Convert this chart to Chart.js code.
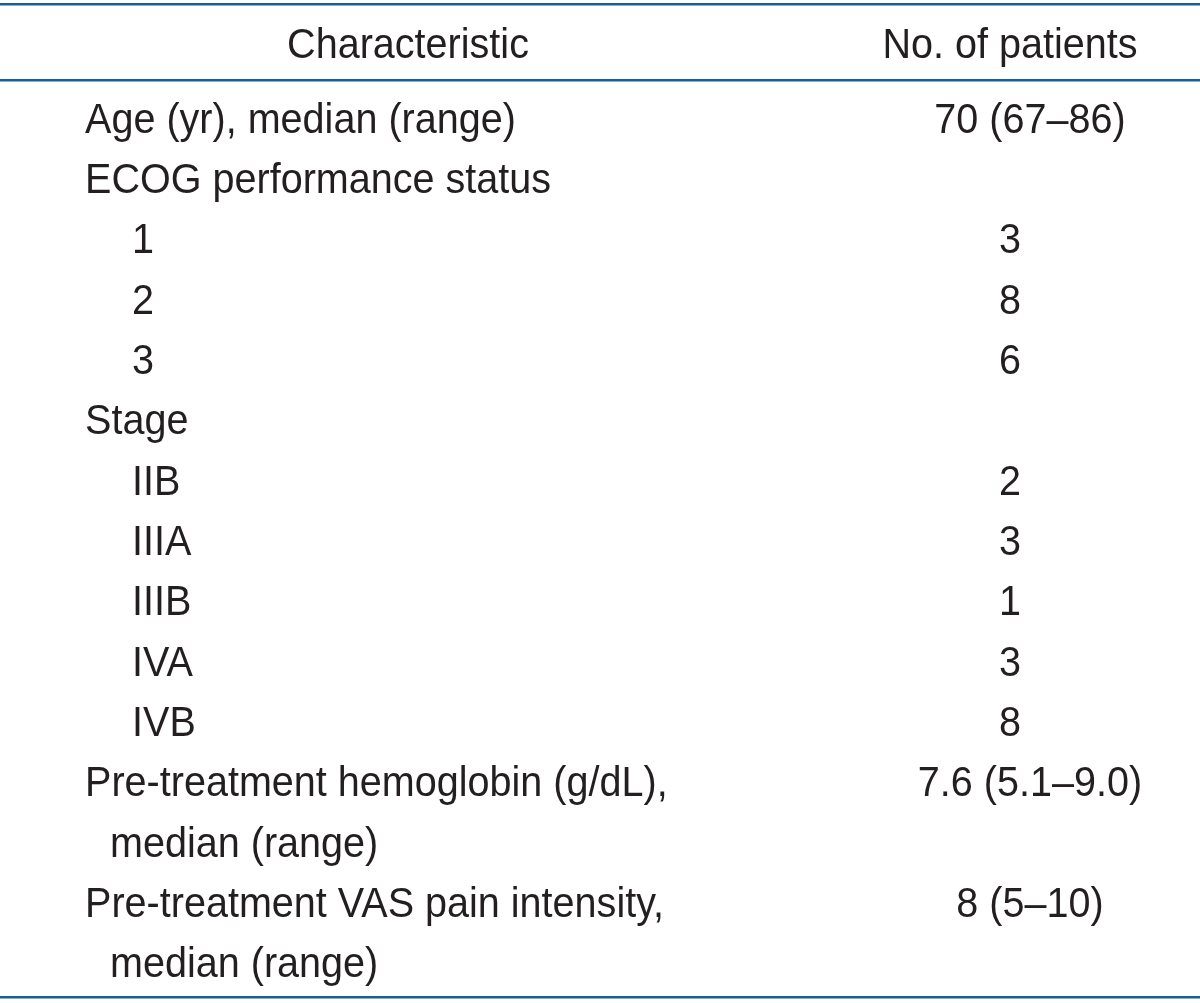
<!DOCTYPE html>
<html>
<head>
<meta charset="utf-8">
<script src="https://cdn.jsdelivr.net/npm/chart.js@4.4.1/dist/chart.umd.min.js"></script>
<style>
  html, body { margin: 0; padding: 0; background: #ffffff; }
  #wrap { width: 1200px; height: 1003px; }
</style>
</head>
<body>
<div id="wrap"><canvas id="tbl" width="1200" height="1003"></canvas></div>
<script>
// table content
var headers = ["Characteristic", "No. of patients"];
var rowLabels = [
  "Age (yr), median (range)",
  "ECOG performance status",
  "1",
  "2",
  "3",
  "Stage",
  "IIB",
  "IIIA",
  "IIIB",
  "IVA",
  "IVB",
  "Pre-treatment hemoglobin (g/dL),",
  "median (range)",
  "Pre-treatment VAS pain intensity,",
  "median (range)"
];
// 0 = main item, 1 = sub item, 2 = wrapped line of the item above
var rowLevel = [0, 0, 1, 1, 1, 0, 1, 1, 1, 1, 1, 0, 2, 0, 2];
var patientValues = [
  "70 (67\u201386)", "", "3", "8", "6", "", "2", "3", "1", "3", "8",
  "7.6 (5.1\u20139.0)", "", "8 (5\u201310)", ""
];

var FONT = "43px 'Liberation Sans', Arial, sans-serif";
var SX = 0.92; // the source face is a bit narrower than Liberation Sans
var INK = "#231f20";

function rule(ctx, yy, x0, x1) {
  ctx.fillStyle = "#1f5d8c";
  ctx.fillRect(x0, yy, x1 - x0, 2);
  ctx.fillStyle = "#7ab2dc";
  ctx.fillRect(x0, yy + 2, x1 - x0, 1);
}

function text(ctx, str, xx, base, align) {
  ctx.save();
  ctx.scale(SX, 1);
  ctx.font = FONT;
  ctx.fillStyle = INK;
  ctx.textAlign = align;
  ctx.textBaseline = "alphabetic";
  ctx.fillText(str, xx / SX, base);
  ctx.restore();
}

var tablePlugin = {
  id: "tableText",
  afterDraw: function (chart) {
    var ctx = chart.ctx;
    var x = chart.scales.x;
    var y = chart.scales.y;
    var area = chart.chartArea;
    var left = x.getPixelForValue(0), right = x.getPixelForValue(1200);

    // rules
    rule(ctx, 3, left, right);
    rule(ctx, area.top - 8, left, right);
    rule(ctx, area.bottom + 4, left, right);

    // header
    text(ctx, headers[0], x.getPixelForValue(408), 58, "center");
    text(ctx, headers[1], x.getPixelForValue(1010), 58, "center");

    var indent = [85, 132, 110];
    for (var i = 0; i < rowLabels.length; i++) {
      var base = y.getPixelForValue(i) + 15.5;
      text(ctx, rowLabels[i], x.getPixelForValue(indent[rowLevel[i]]), base, "left");
      var v = patientValues[i];
      if (v) {
        var cx = v.indexOf("(") >= 0 ? 1030 : 1010;
        text(ctx, v, x.getPixelForValue(cx), base, "center");
      }
    }
  }
};

var ctx = document.getElementById("tbl").getContext("2d");
var chart = new Chart(ctx, {
  type: "bar",
  data: {
    labels: rowLabels,
    datasets: [
      {
        data: rowLabels.map(function () { return 0; }),
        backgroundColor: "rgba(0,0,0,0)",
        borderWidth: 0
      }
    ]
  },
  options: {
    indexAxis: "y",
    responsive: false,
    animation: false,
    devicePixelRatio: 1,
    layout: { padding: { left: 0, right: 0, top: 87, bottom: 11 } },
    scales: {
      x: { type: "linear", min: 0, max: 1200, display: false },
      y: { type: "category", offset: true, display: false }
    },
    plugins: {
      legend: { display: false },
      tooltip: { enabled: false },
      title: { display: false }
    }
  },
  plugins: [tablePlugin]
});
</script>
</body>
</html>
